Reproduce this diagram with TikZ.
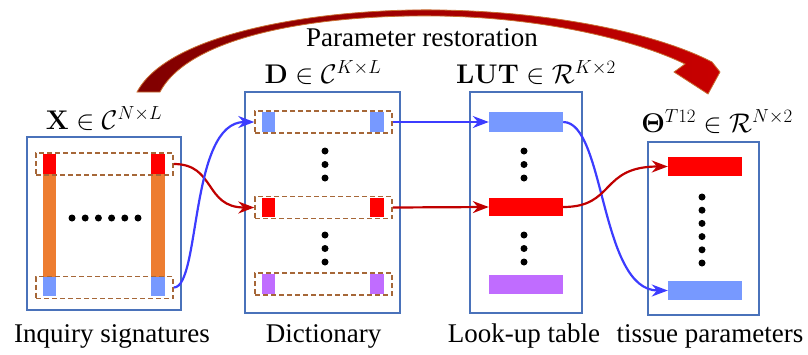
\RequirePackage{fix-cm}
\documentclass[tikz,border=0pt]{standalone}
\usepackage{amsmath}
\usepackage{amsfonts}
\usepackage[no-math]{fontspec}
\setmainfont{Liberation Serif}
\usetikzlibrary{arrows.meta}
\definecolor{panelblue}{RGB}{74,114,186}
\definecolor{rowbrown}{RGB}{166,103,56}
\definecolor{sigred}{RGB}{255,0,0}
\definecolor{sigblue}{RGB}{119,153,255}
\definecolor{sigpurple}{RGB}{192,108,255}
\definecolor{sigorange}{RGB}{237,125,49}
\definecolor{linkblue}{RGB}{60,60,255}
\definecolor{linkred}{RGB}{192,0,0}
\definecolor{archdark}{RGB}{128,0,0}
\definecolor{archred}{RGB}{200,0,0}
\definecolor{archrim}{RGB}{200,110,50}

\begin{document}
\begin{tikzpicture}[x=1pt,y=-1pt,
        panel/.style={draw=panelblue,line width=1.5pt,inner sep=0pt},
        row/.style={draw=rowbrown,dash pattern=on 5pt off 3pt,line width=1.5pt,minimum width=137pt,minimum height=22pt,inner sep=0pt},
        bar/.style={minimum width=74pt,minimum height=19pt,inner sep=0pt},
        lbl/.style={font=\fontsize{27}{32}\selectfont,inner sep=0pt},
        link/.style={line width=2.2pt,-{Stealth[length=16pt,width=12pt]}}]
        \useasboundingbox(0,0)rectangle(808,354);

        \shadedraw[left color=archdark,right color=archred,draw=archrim,line width=.8pt]
            (137,92)..controls(170,30)and(330,8)..(440,10)..controls(560,12)and(660,35)..(712,62)
            --(720,72)--(708,94)--(674,72)--(685,64)
            ..controls(640,42)and(550,18)..(440,16)..controls(320,14)and(190,35)..(160,92)--cycle;
        \node[lbl,anchor=base](title)at(422,46){Parameter restoration};

        \node[panel,minimum width=154pt,minimum height=173pt](xbox)at(104,223.5){};
        \fill[sigorange](43,154)rectangle(56,296);
        \fill[sigorange](151,154)rectangle(165,296);
        \fill[sigred](43,154)rectangle(56,174);
        \fill[sigred](151,154)rectangle(165,174);
        \fill[sigblue](43,277)rectangle(56,296);
        \fill[sigblue](151,277)rectangle(165,296);
        \node[row](xtop)at(104.5,164){};
        \node[row](xbot)at(104.5,287.5){};
        \foreach \k in {0,...,5}\fill(72+13.2*\k,218)circle[radius=3.5pt];
        \node[lbl,anchor=base](xlab)at(104,129){$\mathbf{X}\in\mathcal{C}^{N\times L}$};
        \node[lbl,anchor=base](xname)at(112,342){Inquiry signatures};

        \node[panel,minimum width=155pt,minimum height=221pt](dbox)at(322.5,202.5){};
        \node[row](dtop)at(323.5,122){};
        \node[row](dmid)at(323.5,207.5){};
        \node[row](dbot)at(323.5,284){};
        \fill[sigblue](262,112)rectangle(275,132);
        \fill[sigblue](370,112)rectangle(384,132);
        \fill[sigred](262,198)rectangle(275,217);
        \fill[sigred](370,198)rectangle(384,217);
        \fill[sigpurple](262,274)rectangle(275,294);
        \fill[sigpurple](370,274)rectangle(384,294);
        \foreach \y in {151,164.5,178,235,248.5,262}\fill(325,\y)circle[radius=3.5pt];
        \node[lbl,anchor=base](dlab)at(323,83){$\mathbf{D}\in\mathcal{C}^{K\times L}$};
        \node[lbl,anchor=base](dname)at(323.6,342){Dictionary};

        \node[panel,minimum width=112pt,minimum height=221pt](lutbox)at(526,202.5){};
        \node[bar,fill=sigblue,minimum height=20pt](lutb)at(526,122){};
        \node[bar,fill=sigred,minimum height=18pt](lutr)at(526,207){};
        \node[bar,fill=sigpurple](lutp)at(526,284.5){};
        \foreach \y in {151,164.5,178,235,248.5,262}\fill(524,\y)circle[radius=3.5pt];
        \node[lbl,anchor=base](lutlab)at(536,83){$\mathbf{LUT}\in\mathcal{R}^{K\times 2}$};
        \node[lbl,anchor=base](lutname)at(524,342){Look-up table};

        \node[panel,minimum width=111pt,minimum height=173pt](thbox)at(703.5,228.5){};
        \node[bar,fill=sigred](thr)at(705,166.5){};
        \node[bar,fill=sigblue](thb)at(705,290.5){};
        \foreach \k in {0,...,5}\fill(702,197+13.2*\k)circle[radius=3.5pt];
        \node[lbl,anchor=base](thlab)at(717,132){$\mathbf{\Theta}^{T12}\in\mathcal{R}^{N\times 2}$};
        \node[lbl,anchor=base](thname)at(710,342){tissue parameters};

        \draw[link,linkred](xtop.east)..controls+(42,0)and+(-50,0)..(dmid.west);
        \draw[link,linkblue](xbot.east)..controls+(27,0)and+(-65,0)..(dtop.west);
        \draw[link,linkblue](dtop.east)--(lutb.west);
        \draw[link,linkred](dmid.east)--(lutr.west);
        \draw[link,linkblue](lutb.east)..controls+(42,0)and+(-68,0)..(thb.west);
        \draw[link,linkred](lutr.east)..controls+(52,0)and+(-68,0)..(thr.west);
    \end{tikzpicture}
\end{document}
